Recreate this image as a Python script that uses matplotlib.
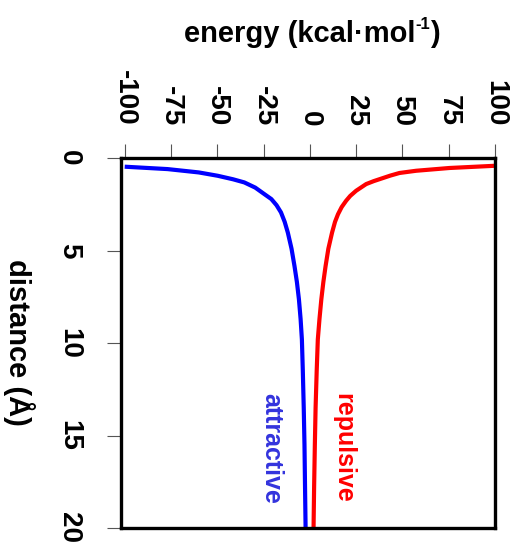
import matplotlib
matplotlib.use("Agg")
import matplotlib.pyplot as plt

# distance (Angstrom) and energies (kcal/mol)
dist_att = [0.47, 0.60, 0.78, 0.96, 1.15, 1.32, 1.60, 1.95, 2.22, 2.55, 2.94, 3.45, 4.03, 4.90, 5.84, 6.70, 7.64, 8.70, 9.81, 11.5, 13.5, 15.5, 17.8, 20.0]
energy_att = [-100.0, -76.8, -60.0, -49.8, -41.5, -35.4, -29.5, -24.6, -20.8, -18.0, -15.6, -13.6, -11.9, -9.9, -8.3, -7.0, -5.9, -5.0, -4.3, -3.8, -3.3, -2.9, -2.6, -2.3]

dist_rep = [0.42, 0.54, 0.69, 0.81, 0.95, 1.08, 1.25, 1.41, 1.77, 2.05, 2.31, 2.65, 3.04, 3.45, 4.03, 4.90, 5.84, 6.70, 7.64, 8.70, 9.81, 11.5, 13.5, 15.5, 17.8, 20.0]
energy_rep = [100.0, 75.4, 57.4, 48.4, 43.5, 39.6, 34.5, 30.4, 25.0, 21.8, 19.6, 17.2, 15.2, 13.6, 12.0, 10.0, 8.5, 7.3, 6.2, 5.2, 4.3, 3.7, 3.1, 2.7, 2.3, 2.0]

energy_ticks = [-100, -75, -50, -25, 0, 25, 50, 75, 100]
dist_ticks = [0, 5, 10, 15, 20]

plt.rcParams['font.family'] = ['Liberation Sans', 'DejaVu Sans']
plt.rcParams['font.weight'] = 'bold'

W, H = 519, 549
fig = plt.figure(figsize=(W / 100, H / 100), dpi=100)
ax = fig.add_axes([121 / W, 1 - 528 / H, (495 - 121) / W, (528 - 158) / H])

ax.plot(energy_att, dist_att, color='#0000ff', lw=3.0, solid_capstyle='butt', solid_joinstyle='round')
ax.plot(energy_rep, dist_rep, color='#ff0000', lw=3.0, solid_capstyle='butt', solid_joinstyle='round')

ax.set_xlim(-102, 100)
ax.set_ylim(20, 0)

ax.xaxis.tick_top()
ax.set_xticks(energy_ticks)
ax.set_xticklabels([str(v) for v in energy_ticks], rotation=-90, fontsize=20, fontweight='bold')
ax.set_yticks(dist_ticks)
ax.set_yticklabels([str(v) for v in dist_ticks], rotation=-90, fontsize=20, fontweight='bold', va='center')
ax.tick_params(axis='x', length=10, width=0.8, color='#555555', pad=13)
ax.tick_params(axis='y', length=10, width=0.8, color='#555555', pad=18)

for s in ax.spines.values():
    s.set_linewidth(2.4)
    s.set_color('black')

ax.text(-20.7, 12.7, 'attractive', color='#3333dd', rotation=-90, fontsize=18,
        fontweight='bold', ha='center', va='top')
ax.text(18.2, 12.7, 'repulsive', color='#ff0000', rotation=-90, fontsize=18,
        fontweight='bold', ha='center', va='top')

# energy label with a small raised "-1"
fs = 21
base_y = 1 - 42 / H
t1 = fig.text(0, base_y, 'energy (kcal·mol', fontsize=fs, fontweight='bold', ha='left', va='baseline')
t2 = fig.text(0, base_y + 13 / H, '-1', fontsize=12, fontweight='bold', ha='left', va='baseline')
t3 = fig.text(0, base_y, ')', fontsize=fs, fontweight='bold', ha='left', va='baseline')
r = fig.canvas.get_renderer()
w1 = t1.get_window_extent(r).width
w2 = t2.get_window_extent(r).width
w3 = t3.get_window_extent(r).width
total = w1 + w2 + w3
x0 = 312 - total / 2
t1.set_x(x0 / W)
t2.set_x((x0 + w1) / W)
t3.set_x((x0 + w1 + w2) / W)

fig.text(19 / W, 1 - 342 / H, 'distance (Å)', fontsize=21, fontweight='bold',
         rotation=-90, ha='center', va='center')

fig.savefig('out.png', dpi=100)
